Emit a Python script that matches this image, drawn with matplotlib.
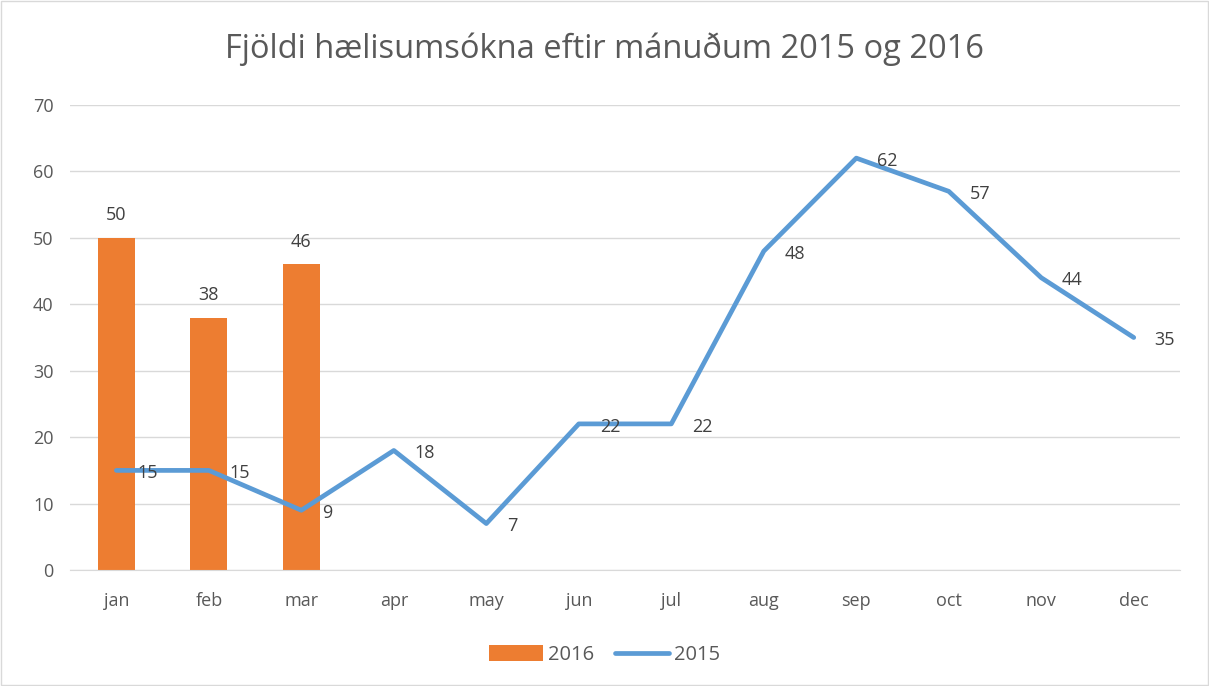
import matplotlib.pyplot as plt
import numpy as np

months = ['jan', 'feb', 'mar', 'apr', 'may', 'jun', 'jul', 'aug', 'sep', 'oct', 'nov', 'dec']
values_2016 = [50, 38, 46]
values_2015 = [15, 15, 9, 18, 7, 22, 22, 48, 62, 57, 44, 35]

orange = '#ED7D31'
blue = '#5B9BD5'
text_gray = '#595959'

plt.rcParams['font.family'] = ['Open Sans', 'DejaVu Sans']

fig = plt.figure(figsize=(12.09, 6.86), dpi=100)
ax = fig.add_axes([0.058, 0.169, 0.918, 0.678])

x = np.arange(len(months))
bars = ax.bar(x[:len(values_2016)], values_2016, width=0.4, color=orange, label='2016', zorder=2)
line, = ax.plot(x, values_2015, color=blue, linewidth=3.4, label='2015', zorder=3,
                solid_joinstyle='round', solid_capstyle='round')

# data labels
for xi, v in zip(x, values_2016):
    ax.annotate(str(v), (xi, v), xytext=(0, 10), textcoords='offset points',
                ha='center', va='bottom', fontsize=13, color='#404040')
for xi, v in zip(x, values_2015):
    ax.annotate(str(v), (xi, v), xytext=(15, -2), textcoords='offset points',
                ha='left', va='center', fontsize=13, color='#404040')

ax.set_xlim(-0.5, len(months) - 0.5)
ax.set_ylim(0, 70)
ax.set_yticks(range(0, 71, 10))
ax.set_xticks(x)
ax.set_xticklabels(months)
ax.tick_params(axis='both', length=0, labelsize=13, colors=text_gray)
ax.tick_params(axis='x', pad=16)
ax.tick_params(axis='y', pad=12)
ax.grid(axis='y', color='#D9D9D9', linewidth=1, zorder=0)
ax.set_axisbelow(True)
for side in ['top', 'right', 'left']:
    ax.spines[side].set_visible(False)
ax.spines['bottom'].set_color('#D9D9D9')

fig.text(0.5, 0.928, 'Fjöldi hælisumsókna eftir mánuðum 2015 og 2016', ha='center', va='center',
         fontsize=23.5, color=text_gray)

fig.legend(handles=[bars, line], labels=['2016', '2015'], loc='center', bbox_to_anchor=(0.5, 0.045),
           ncol=2, frameon=False, fontsize=14.5, labelcolor=text_gray, handlelength=2.7,
           handleheight=0.8, columnspacing=1.0, handletextpad=0.25)

# thin border around the chart area
fig.patches.append(plt.Rectangle((0.001, 0.001), 0.998, 0.998, transform=fig.transFigure,
                                 fill=False, edgecolor='#D9D9D9', linewidth=1))

fig.savefig('out.png', dpi=100)
